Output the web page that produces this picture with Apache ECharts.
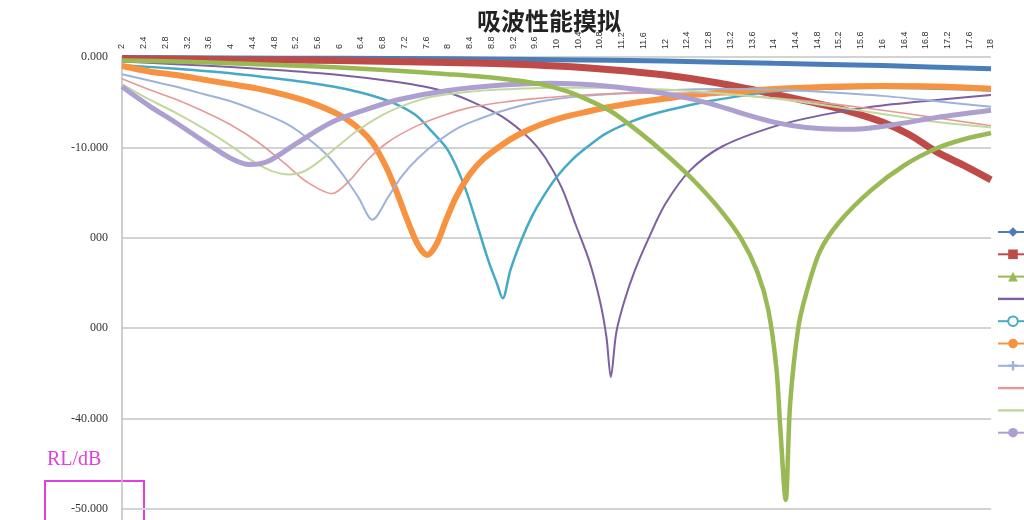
<!DOCTYPE html>
<html><head><meta charset="utf-8">
<script src="https://cdn.jsdelivr.net/npm/echarts@6/dist/echarts.min.js"></script>
<style>html,body{margin:0;padding:0;background:#fff}#c{width:1024px;height:520px}</style>
</head><body><div id="c"></div>
<script>
const titleText = '吸波性能摸拟';
const seriesNames = ['系列1','系列2','系列3','系列4','系列5','系列6','系列7','系列8','系列9','系列10'];
// [frequency GHz, RL dB]
const s1 = [[2,-0.05],[4,-0.1],[6,-0.15],[8,-0.2],[10,-0.3],[12,-0.45],[14,-0.7],[16,-0.95],[18,-1.3]];
const s2 = [[2,-0.2],[4,-0.3],[6,-0.4],[8,-0.6],[9,-0.75],[10,-1.0],[11,-1.4],[12,-2.0],[13,-2.9],[14,-4.1],[15,-5.4],[15.5,-6.2],[16,-7.2],[16.5,-8.6],[17,-10.5],[17.5,-12.0],[18,-13.6]];
const s3 = [[2,-0.4],[3,-0.5],[4,-0.7],[5,-0.9],[6,-1.15],[7,-1.5],[8,-1.9],[9,-2.4],[9.7,-3.0],[10.2,-3.8],[10.6,-4.8],[11,-6.0],[11.5,-8.2],[12,-10.7],[12.5,-13.5],[13,-16.8],[13.4,-20.1],[13.7,-23.8],[13.9,-28],[14.05,-34.5],[14.12,-41],[14.22,-49],[14.3,-38.5],[14.45,-30],[14.6,-26.1],[14.85,-21.5],[15.2,-18.3],[15.8,-14.7],[16.4,-12.0],[17,-10.1],[17.5,-9.1],[18,-8.4]];
const s4 = [[2,-0.5],[3,-0.8],[4,-1.1],[5,-1.5],[6,-2.0],[7,-2.7],[7.5,-3.2],[8,-3.9],[8.5,-5.1],[9,-6.6],[9.5,-9.0],[9.8,-11.2],[10.1,-14.5],[10.35,-18.5],[10.6,-22.5],[10.8,-27],[10.92,-31],[11.0,-35.4],[11.1,-30.5],[11.25,-27],[11.45,-23.5],[11.7,-20.0],[12.0,-16.3],[12.45,-12.6],[13.05,-9.9],[14,-7.7],[14.9,-6.4],[15.8,-5.5],[17,-4.75],[18,-4.2]];
const s5 = [[2,-0.9],[3,-1.3],[4,-1.8],[5,-2.5],[5.5,-2.9],[6,-3.4],[6.5,-4.1],[7,-5.1],[7.4,-6.4],[7.7,-8.2],[8,-10.3],[8.3,-14.2],[8.55,-18.8],[8.75,-22.6],[8.9,-25],[9.01,-26.7],[9.15,-23.6],[9.35,-20.3],[9.55,-17.6],[9.75,-15.5],[10.0,-13.3],[10.3,-11.3],[10.6,-9.8],[10.9,-8.5],[11.4,-7.1],[11.85,-6.2],[12.4,-5.4],[12.8,-4.9],[13.4,-4.3],[14,-3.8],[15,-3.5],[16,-3.4],[17,-3.5],[18,-3.7]];
const s6 = [[2,-1.0],[2.5,-1.6],[3,-2.0],[3.5,-2.5],[4,-3.0],[4.5,-3.5],[5,-4.2],[5.5,-5.1],[6,-6.4],[6.3,-7.6],[6.6,-9.4],[6.85,-12],[7.05,-14.8],[7.25,-18],[7.45,-20.8],[7.62,-21.9],[7.8,-20.6],[7.95,-18.3],[8.15,-15.5],[8.4,-13.0],[8.65,-11.3],[9.0,-9.7],[9.3,-8.6],[9.7,-7.5],[10.1,-6.7],[10.6,-6.0],[11,-5.5],[11.5,-5.0],[12,-4.6],[12.5,-4.2],[13,-3.95],[13.5,-3.75],[14,-3.55],[15,-3.3],[16,-3.2],[17,-3.25],[18,-3.5]];
const s7 = [[2,-1.9],[2.5,-2.6],[3,-3.3],[3.5,-4.1],[4,-4.9],[4.5,-6.0],[5,-7.3],[5.4,-8.9],[5.8,-11],[6.1,-13.3],[6.35,-15.5],[6.61,-18.0],[6.9,-15.5],[7.15,-13.2],[7.45,-11.2],[7.8,-9.4],[8.2,-7.8],[8.6,-6.8],[8.95,-6.05],[9.4,-5.3],[9.87,-4.75],[10.5,-4.3],[11.2,-4.0],[12,-3.7],[13,-3.55],[14,-3.6],[15,-3.9],[16,-4.3],[17,-4.9],[18,-5.5]];
const s8 = [[2,-2.4],[2.5,-3.6],[3,-4.7],[3.5,-6.0],[4,-7.5],[4.5,-9.4],[5,-11.8],[5.4,-13.8],[5.87,-15.1],[6.2,-13.6],[6.5,-11.5],[6.9,-9.4],[7.4,-7.7],[7.9,-6.5],[8.4,-5.6],[9,-5.0],[9.6,-4.6],[10.5,-4.2],[11.5,-4.0],[12.5,-4.0],[13.5,-4.3],[14.5,-4.8],[15.5,-5.5],[16.5,-6.3],[17.3,-7.0],[18,-7.6]];
const s9 = [[2,-3.0],[2.5,-4.7],[3,-6.2],[3.5,-7.9],[4,-9.8],[4.4,-11.5],[4.75,-12.6],[5.08,-13.0],[5.4,-12.5],[5.87,-10.4],[6.3,-8.3],[6.8,-6.4],[7.3,-5.1],[7.7,-4.4],[8.3,-3.9],[8.95,-3.6],[10,-3.4],[11,-3.4],[12,-3.6],[13,-4.0],[14,-4.6],[15,-5.4],[16,-6.3],[17,-7.2],[18,-7.8]];
const s10 = [[2,-3.3],[2.5,-5.4],[3,-7.3],[3.5,-9.3],[4,-11.2],[4.35,-11.9],[4.7,-11.5],[5.2,-9.6],[5.87,-7.2],[6.5,-5.8],[7.1,-4.7],[8,-3.7],[9,-3.1],[9.9,-2.9],[10.7,-3.1],[11.5,-3.6],[12.2,-4.3],[12.8,-5.1],[13.4,-6.2],[14,-7.2],[14.6,-7.8],[15.2,-8.0],[15.7,-7.9],[16.2,-7.5],[17,-6.7],[18,-5.9]];
const allData = [s1,s2,s3,s4,s5,s6,s7,s8,s9,s10];
const yTickLabels = {'0':'0.000','-10':'-10.000','-20':'000','-30':'000','-40':'-40.000','-50':'-50.000'};

const colors = ['#4A7EBB','#BE4B48','#98B954','#7D60A0','#46AAC5','#F69240','#9DB3D9','#E39B98','#C2D89E','#ADA0D0'];
const widths = [5,7,4.5,2,2.5,6,2,1.6,2,5];
const symbols = ['diamond','rect','triangle','none','emptyCircle','circle','path://M3,0H5V3H8V5H5V8H3V5H0V3H3Z','none','none','circle'];
const plainLine = 'path://M0,0H30V2.4H0Z';

const chart = echarts.init(document.getElementById('c'), null, {renderer:'canvas'});
chart.setOption({
  animation:false,
  backgroundColor:'#fff',
  color: colors,
  title:{text:titleText,left:472,top:4,textStyle:{fontFamily:'Noto Sans CJK SC',fontSize:24,fontWeight:'bold',color:'#222'}},
  legend:{orient:'vertical',left:992,top:220,itemWidth:30,itemHeight:12,itemGap:8.3,
    textStyle:{fontSize:12,lineHeight:14},
    data:seriesNames.map((n,i)=>symbols[i]==='none'?{name:n,icon:plainLine}:{name:n})},
  grid:{left:122,right:33,top:57,bottom:11,containLabel:false},
  xAxis:{type:'value',position:'top',min:2,max:18,interval:0.4,
    axisLine:{show:false},axisTick:{show:false},splitLine:{show:false},
    axisLabel:{rotate:90,fontSize:9,color:'#333',margin:8,fontFamily:'Liberation Sans',
      formatter:v=>String(+v.toFixed(1))}},
  yAxis:{type:'value',min:-50,max:0,interval:10,
    axisLine:{show:true,lineStyle:{color:'#BFBFBF',width:1.5}},axisTick:{show:false},
    splitLine:{lineStyle:{color:'#D3D3D3',width:2}},
    axisLabel:{fontSize:12,color:'#333',margin:14,fontFamily:'Liberation Serif',
      formatter:v=>yTickLabels[String(Math.round(v))]}},
  graphic:[
    {type:'line',shape:{x1:122,y1:509,x2:122,y2:520},style:{stroke:'#BFBFBF',lineWidth:1.5}},
    {type:'text',left:47,top:450,style:{text:'RL/dB',fill:'#E040E0',font:'20px "Liberation Serif"'}},
    {type:'rect',shape:{x:45,y:481,width:99,height:50},style:{fill:'none',stroke:'#E040E0',lineWidth:2}}
  ],
  series: allData.map((d,i)=>({
    name:seriesNames[i],type:'line',data:d,smooth:0.3,showSymbol:false,symbol:symbols[i],symbolSize:7,
    clip:false,lineStyle:{width:widths[i],color:colors[i]},itemStyle:{color:colors[i]},z:2+(i===2?5:0)
  }))
});
</script></body></html>
